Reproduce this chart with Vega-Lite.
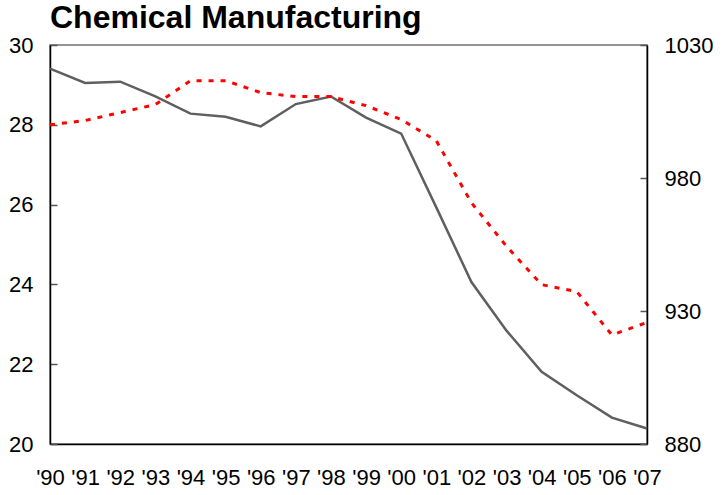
{
  "$schema": "https://vega.github.io/schema/vega-lite/v6.json",
  "width": 597,
  "height": 399,
  "autosize": {"type": "none"},
  "padding": {"left": 50, "top": 45, "right": 78, "bottom": 51},
  "background": "white",
  "config": {
    "font": "Liberation Sans",
    "view": {"stroke": "#707070", "strokeWidth": 1.5},
    "axis": {"grid": false, "labelFont": "Liberation Sans", "labelFontSize": 22, "labelColor": "#000"}
  },
  "title": {
    "text": "Chemical Manufacturing",
    "anchor": "start",
    "frame": "group",
    "font": "Liberation Sans",
    "fontSize": 32,
    "fontWeight": "bold",
    "color": "#000",
    "baseline": "alphabetic",
    "offset": 0,
    "dy": 26
  },
  "data": {
    "values": [
      {"year": 1990, "left": 29.41, "right": 1000.0},
      {"year": 1991, "left": 29.05, "right": 1001.6},
      {"year": 1992, "left": 29.08, "right": 1004.6},
      {"year": 1993, "left": 28.71, "right": 1007.6},
      {"year": 1994, "left": 28.28, "right": 1016.6},
      {"year": 1995, "left": 28.20, "right": 1016.6},
      {"year": 1996, "left": 27.96, "right": 1012.1},
      {"year": 1997, "left": 28.52, "right": 1010.6},
      {"year": 1998, "left": 28.71, "right": 1010.6},
      {"year": 1999, "left": 28.18, "right": 1007.2},
      {"year": 2000, "left": 27.78, "right": 1002.0},
      {"year": 2001, "left": 25.93, "right": 994.0},
      {"year": 2002, "left": 24.06, "right": 970.7},
      {"year": 2003, "left": 22.84, "right": 954.3},
      {"year": 2004, "left": 21.81, "right": 939.9},
      {"year": 2005, "left": 21.22, "right": 937.3},
      {"year": 2006, "left": 20.66, "right": 921.0},
      {"year": 2007, "left": 20.39, "right": 925.7}
    ]
  },
  "encoding": {
    "x": {
      "field": "year",
      "type": "quantitative",
      "scale": {"domain": [1990, 2007], "nice": false, "zero": false},
      "axis": {
        "title": null,
        "values": [1990,1991,1992,1993,1994,1995,1996,1997,1998,1999,2000,2001,2002,2003,2004,2005,2006,2007],
        "labelExpr": "\"'\" + substring(toString(datum.value), 2, 4)",
        "ticks": false,
        "domainColor": "#000",
        "domainWidth": 1.5,
        "labelPadding": 23,
        "labelFlush": false,
        "labelOverlap": false
      }
    }
  },
  "layer": [
    {
      "mark": {"type": "line", "color": "#5f5f5f", "strokeWidth": 2.5},
      "encoding": {
        "y": {
          "field": "left",
          "type": "quantitative",
          "scale": {"domain": [20, 30], "nice": false, "zero": false},
          "axis": {
            "title": null,
            "orient": "left",
            "values": [20, 22, 24, 26, 28, 30],
            "tickSize": -7,
            "tickColor": "#555",
            "tickWidth": 1.5,
            "domainColor": "#000",
            "domainWidth": 1.5,
            "labelPadding": 24,
            "labelFlush": false
          }
        }
      }
    },
    {
      "mark": {"type": "line", "color": "#ff0000", "strokeWidth": 3, "strokeDash": [5, 7]},
      "encoding": {
        "y": {
          "field": "right",
          "type": "quantitative",
          "scale": {"domain": [880, 1030], "nice": false, "zero": false},
          "axis": {
            "title": null,
            "orient": "right",
            "format": "d",
            "values": [880, 930, 980, 1030],
            "tickSize": -7,
            "tickColor": "#555",
            "tickWidth": 1.5,
            "domainColor": "#000",
            "domainWidth": 1.5,
            "labelPadding": 24,
            "labelFlush": false
          }
        }
      }
    }
  ],
  "resolve": {"scale": {"y": "independent"}}
}
